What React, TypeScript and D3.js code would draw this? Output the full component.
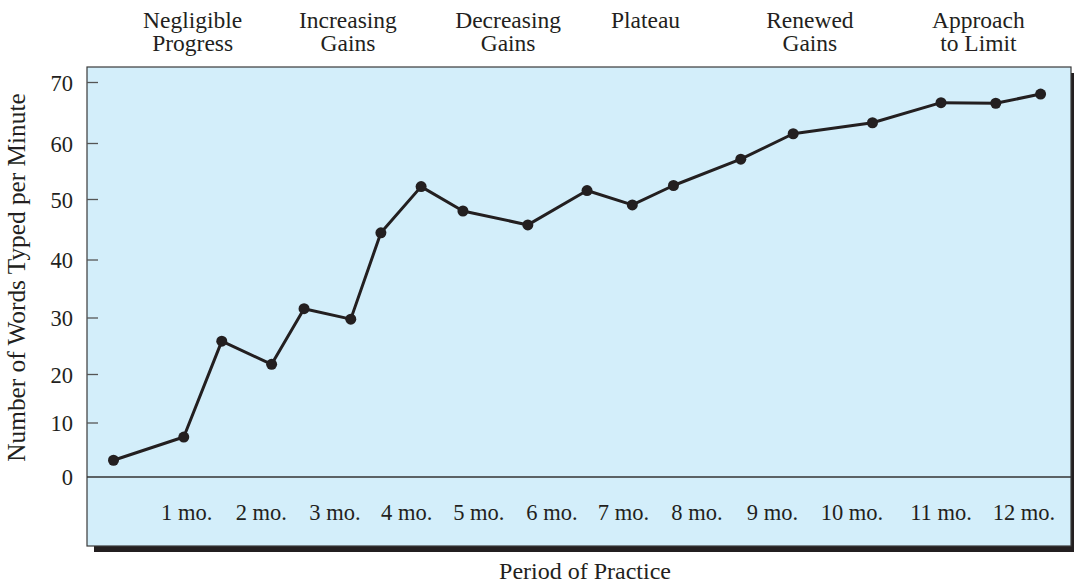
import React, { useEffect } from "react";
import * as d3 from "d3";

// ---- data ----
const yTicks = [0, 10, 20, 30, 40, 50, 60, 70];
const monthTicks = [1, 2, 3, 4, 5, 6, 7, 8, 9, 10, 11, 12];
const monthLabels = ["1 mo.", "2 mo.", "3 mo.", "4 mo.", "5 mo.", "6 mo.", "7 mo.", "8 mo.", "9 mo.", "10 mo.", "11 mo.", "12 mo."];
// time of each measurement, in months of practice
const practiceMonths = [0.0, 0.96, 1.47, 2.14, 2.58, 3.22, 3.64, 4.2, 4.78, 5.67, 6.49, 7.12, 7.68, 8.58, 9.26, 10.23, 11.0, 11.66, 12.2];
// words typed per minute
const wordsPerMinute = [3.1, 7.4, 25.9, 21.8, 31.6, 29.8, 44.5, 52.3, 48.1, 45.8, 51.6, 49.1, 52.5, 57.2, 61.6, 63.4, 66.7, 66.6, 68.1];
const phaseLabels = [
  ["Negligible", "Progress"],
  ["Increasing", "Gains"],
  ["Decreasing", "Gains"],
  ["Plateau"],
  ["Renewed", "Gains"],
  ["Approach", "to Limit"],
];
const phaseMonths = [1.08, 3.18, 5.4, 7.3, 9.47, 11.45];
const yTitle = "Number of Words Typed per Minute";
const xTitle = "Period of Practice";

// ---- layout ----
const W = 1074;
const H = 584;
const frame = { left: 87, right: 1071, top: 67, bottom: 546 };
const INK = "#231f20";
const FONT = "'Liberation Serif', 'Times New Roman', serif";

// printed axis spacing in the source figure is slightly uneven
const x = d3
  .scaleLinear()
  .domain(d3.range(0, 13))
  .range([113.5, 186.7, 261.3, 335, 406.7, 478.8, 552, 623.5, 697, 772.5, 852, 941, 1024]);
const y = d3
  .scaleLinear()
  .domain(yTicks)
  .range([477, 423, 374.5, 318, 260, 199.5, 143.5, 82.5]);

export default function App() {
  useEffect(() => {
    document.body.style.margin = "0";
  }, []);

  const pts = practiceMonths.map((m, i) => [x(m), y(wordsPerMinute[i])] as [number, number]);
  const lineGen = d3.line<[number, number]>().x((d) => d[0]).y((d) => d[1]);

  return (
    <svg width={W} height={H} style={{ display: "block" }} fontFamily={FONT}>
      {/* shadow */}
      <rect
        x={frame.left + 7}
        y={frame.top + 6}
        width={frame.right - frame.left}
        height={frame.bottom - frame.top}
        fill={INK}
      />
      {/* plot frame */}
      <rect
        x={frame.left}
        y={frame.top}
        width={frame.right - frame.left}
        height={frame.bottom - frame.top}
        fill="#d3eefa"
        stroke="#3a3a3a"
        strokeWidth={1.2}
      />
      {/* zero line */}
      <line x1={frame.left} x2={frame.right} y1={y(0)} y2={y(0)} stroke="#333" strokeWidth={1.3} />
      {/* y ticks and labels */}
      {yTicks.map((t) => (
        <g key={t}>
          {t > 0 && (
            <line x1={frame.left} x2={frame.left + 11} y1={y(t)} y2={y(t)} stroke="#555" strokeWidth={1.3} />
          )}
          <text x={73} y={y(t) + 8} textAnchor="end" fontSize={22.5} fill={INK}>
            {t}
          </text>
        </g>
      ))}
      {/* month labels */}
      {monthTicks.map((m, i) => (
        <text key={m} x={x(m)} y={520} textAnchor="middle" fontSize={22.5} fill={INK}>
          {monthLabels[i]}
        </text>
      ))}
      {/* phase labels */}
      {phaseLabels.map((lines, i) => (
        <g key={i}>
          {lines.map((l, j) => (
            <text key={j} x={x(phaseMonths[i])} y={28 + j * 23} textAnchor="middle" fontSize={23.5} fill={INK}>
              {l}
            </text>
          ))}
        </g>
      ))}
      {/* data line */}
      <path d={lineGen(pts) || ""} fill="none" stroke={INK} strokeWidth={3} strokeLinejoin="round" />
      {pts.map((p, i) => (
        <circle key={i} cx={p[0]} cy={p[1]} r={5.5} fill={INK} />
      ))}
      {/* axis titles */}
      <text
        transform={`translate(25, ${(93 + 462) / 2}) rotate(-90)`}
        textAnchor="middle"
        fontSize={25.3}
        fill={INK}
      >
        {yTitle}
      </text>
      <text x={585} y={579} textAnchor="middle" fontSize={24} fill={INK}>
        {xTitle}
      </text>
    </svg>
  );
}
